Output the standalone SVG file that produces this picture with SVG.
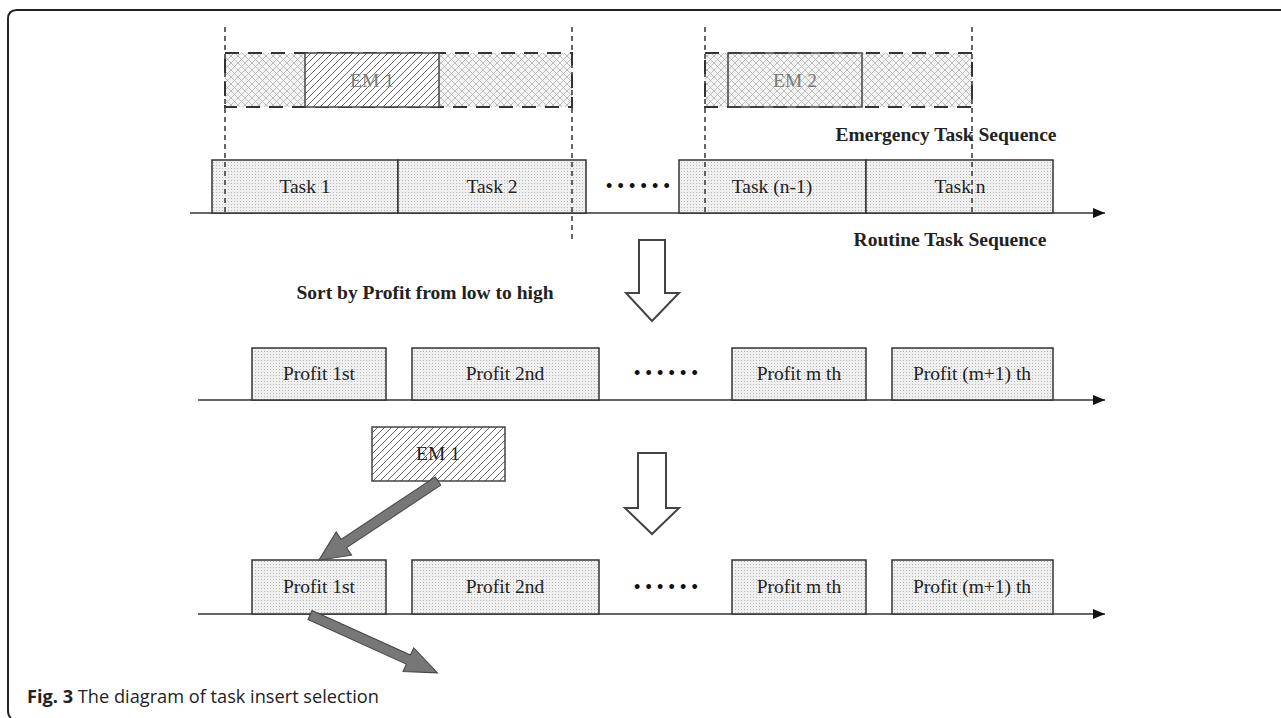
<svg xmlns="http://www.w3.org/2000/svg" width="1281" height="718" viewBox="0 0 1281 718">
<style>
.serif{font-family:"Liberation Serif","Times New Roman",serif;font-size:19.5px;fill:#222}
.bold{font-weight:bold}
.em{fill:#7a7a7a}
.box{fill:url(#stipple);stroke:#333;stroke-width:1.5}
.vdash{stroke:#333;stroke-width:1.5;stroke-dasharray:5 4;fill:none}
.rdash{fill:url(#cross);stroke:#333;stroke-width:2;stroke-dasharray:14 9}
.axis{stroke:#333;stroke-width:1.5;fill:none}
.hollow{fill:#fff;stroke:#444;stroke-width:2}
.grey{fill:#777;stroke:#444;stroke-width:1}
.dots{font-family:"Liberation Sans",Arial,sans-serif;font-size:18px;fill:#111;letter-spacing:5.2px}
.cap{font-family:"Open Sans","Noto Sans",sans-serif;font-size:18.2px;fill:#222}
</style>
<defs>
<pattern id="stipple" width="3" height="3" patternUnits="userSpaceOnUse">
<rect width="3" height="3" fill="#f0f0f0"/><rect width="1" height="1" fill="#b5b5b5"/>
</pattern>
<pattern id="cross" width="7" height="7" patternUnits="userSpaceOnUse">
<rect width="7" height="7" fill="#f4f4f4"/>
<path d="M0 0L7 7M7 0L0 7" stroke="#b0b0b0" stroke-width="0.8"/>
</pattern>
<pattern id="diag" width="7" height="7" patternUnits="userSpaceOnUse">
<rect width="7" height="7" fill="#fff"/>
<path d="M-1 8L8 -1M-1 1L1 -1M6 8L8 6" stroke="#555" stroke-width="0.9"/>
</pattern>
<marker id="ah" markerWidth="12" markerHeight="10" refX="12" refY="5" orient="auto" markerUnits="userSpaceOnUse">
<path d="M0 0L12 5L0 10Z" fill="#111"/>
</marker>
</defs>

<path d="M1281 10H17Q8 10 8 19V710Q8 716 11 718" fill="none" stroke="#222" stroke-width="2"/>

<g id="connectors">
<line class="axis" x1="190" y1="213" x2="1105" y2="213" marker-end="url(#ah)"/>
<line class="axis" x1="198" y1="400" x2="1105" y2="400" marker-end="url(#ah)"/>
<line class="axis" x1="198" y1="614" x2="1105" y2="614" marker-end="url(#ah)"/>
<polygon class="hollow" points="639,240 665,240 665,293 679,293 652,321 626,293 639,293"/>
<polygon class="hollow" points="638,453 666,453 666,508 679,508 652,534 625,508 638,508"/>
</g>

<g id="emergency-1">
<rect class="rdash" x="225" y="53" width="347" height="54"/>
<rect x="305" y="53" width="134" height="54" fill="url(#diag)" stroke="#444" stroke-width="1.5"/>
<text class="serif em" x="372" y="87" text-anchor="middle">EM 1</text>
</g>
<g id="emergency-2">
<rect class="rdash" x="705" y="53" width="267" height="54"/>
<rect x="728" y="53" width="134" height="54" fill="none" stroke="#444" stroke-width="1.5"/>
<text class="serif em" x="795" y="87" text-anchor="middle">EM 2</text>
</g>

<g id="task-1"><rect class="box" x="212" y="160" width="186" height="53"/><text class="serif" x="305" y="193" text-anchor="middle">Task 1</text></g>
<g id="task-2"><rect class="box" x="398" y="160" width="188" height="53"/><text class="serif" x="492" y="193" text-anchor="middle">Task 2</text></g>
<g id="dots-1"><text class="dots" x="606" y="192">••••••</text></g>
<g id="task-n-1"><rect class="box" x="679" y="160" width="187" height="53"/><text class="serif" x="772" y="193" text-anchor="middle">Task (n-1)</text></g>
<g id="task-n"><rect class="box" x="866" y="160" width="187" height="53"/><text class="serif" x="960" y="193" text-anchor="middle">Task n</text></g>

<g id="vlines">
<line class="vdash" x1="225" y1="27" x2="225" y2="213"/>
<line class="vdash" x1="572" y1="27" x2="572" y2="241"/>
<line class="vdash" x1="705" y1="27" x2="705" y2="213"/>
<line class="vdash" x1="972" y1="27" x2="972" y2="213"/>
</g>

<text class="serif bold" x="946" y="141" text-anchor="middle">Emergency Task Sequence</text>
<text class="serif bold" x="950" y="246" text-anchor="middle">Routine Task Sequence</text>
<text class="serif bold" x="425" y="299" text-anchor="middle">Sort by Profit from low to high</text>

<g id="p1-a"><rect class="box" x="252" y="348" width="134" height="52"/><text class="serif" x="319" y="380" text-anchor="middle">Profit 1st</text></g>
<g id="p2-a"><rect class="box" x="412" y="348" width="187" height="52"/><text class="serif" x="505" y="380" text-anchor="middle">Profit 2nd</text></g>
<g id="dots-2"><text class="dots" x="634" y="379">••••••</text></g>
<g id="pm-a"><rect class="box" x="732" y="348" width="134" height="52"/><text class="serif" x="799" y="380" text-anchor="middle">Profit m th</text></g>
<g id="pm1-a"><rect class="box" x="892" y="348" width="161" height="52"/><text class="serif" x="972" y="380" text-anchor="middle">Profit (m+1) th</text></g>

<g id="em1-insert"><rect x="372" y="427" width="133" height="54" fill="url(#diag)" stroke="#444" stroke-width="1.5"/><text class="serif" x="438" y="460" text-anchor="middle">EM 1</text></g>

<g id="p1-b"><rect class="box" x="252" y="560" width="134" height="54"/><text class="serif" x="319" y="593" text-anchor="middle">Profit 1st</text></g>
<g id="p2-b"><rect class="box" x="412" y="560" width="187" height="54"/><text class="serif" x="505" y="593" text-anchor="middle">Profit 2nd</text></g>
<g id="dots-3"><text class="dots" x="634" y="593">••••••</text></g>
<g id="pm-b"><rect class="box" x="732" y="560" width="134" height="54"/><text class="serif" x="799" y="593" text-anchor="middle">Profit m th</text></g>
<g id="pm1-b"><rect class="box" x="892" y="560" width="161" height="54"/><text class="serif" x="972" y="593" text-anchor="middle">Profit (m+1) th</text></g>

<g id="grey-arrows">
<polygon class="grey" transform="translate(438,481) rotate(146.4)" points="0,-5 113,-5 113,-14 143,0 113,14 113,5 0,5"/>
<polygon class="grey" transform="translate(310,615) rotate(24.4)" points="0,-5 108,-5 108,-13 140,0 108,13 108,5 0,5"/>
</g>

<text class="cap" x="27" y="703"><tspan font-weight="bold">Fig. 3</tspan> The diagram of task insert selection</text>
</svg>
